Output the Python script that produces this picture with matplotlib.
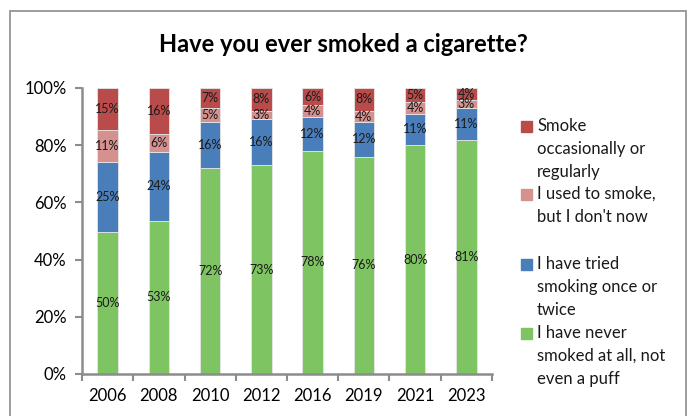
import matplotlib.pyplot as plt
from matplotlib.patches import Rectangle
from matplotlib.ticker import PercentFormatter
import numpy as np

plt.rcParams['font.family'] = ['Lato', 'DejaVu Sans']

years = ['2006', '2008', '2010', '2012', '2016', '2019', '2021', '2023']
never = [50, 53, 72, 73, 78, 76, 80, 81]
tried = [25, 24, 16, 16, 12, 12, 11, 11]
used_to = [11, 6, 5, 3, 4, 4, 4, 3]
smoke = [15, 16, 7, 8, 6, 8, 5, 4]

series = [
    (never, '#7fc462', 'I have never\nsmoked at all, not\neven a puff'),
    (tried, '#4a7ebb', 'I have tried\nsmoking once or\ntwice'),
    (used_to, '#d49190', "I used to smoke,\nbut I don't now"),
    (smoke, '#b94c4b', 'Smoke\noccasionally or\nregularly'),
]

W, H = 691, 416
fig = plt.figure(figsize=(W / 100, H / 100), dpi=100)
ax = fig.add_axes([82 / W, 1 - 374 / H, 410 / W, 286 / H])

# 100% stacked: each year scaled to its own total
totals = np.sum([s[0] for s in series], axis=0)
x = np.arange(len(years))
bottom = np.zeros(len(years))
for vals, col, lab in series:
    v = np.array(vals) / totals * 100
    bars = ax.bar(x, v, 0.4, bottom=bottom, color=col, edgecolor='#e6e6e6', linewidth=0.6)
    ax.bar_label(bars, labels=[f'{n}%' for n in vals], label_type='center',
                 fontsize=9, color='#1a1a1a')
    bottom += v

ax.set_xlim(-0.5, len(years) - 0.5)
ax.set_ylim(0, 100)
ax.set_yticks(range(0, 101, 20))
ax.yaxis.set_major_formatter(PercentFormatter(decimals=0))
ax.set_xticks(x)
ax.set_xticklabels(years)
ax.set_xticks(np.arange(-0.5, len(years)), minor=True)
ax.tick_params(axis='x', which='major', length=0, labelsize=12, pad=10)
ax.tick_params(axis='x', which='minor', length=5, width=1.5, color='#8c8c8c')
ax.tick_params(axis='y', length=5, width=1.5, color='#8c8c8c', labelsize=12, pad=6)
for s in ['top', 'right']:
    ax.spines[s].set_visible(False)
for s in ['left', 'bottom']:
    ax.spines[s].set_color('#8c8c8c')
    ax.spines[s].set_linewidth(1.8)

fig.text(343 / W, 1 - 44 / H, 'Have you ever smoked a cigarette?', ha='center',
         va='center', fontsize=17, fontweight='bold')

# legend drawn by hand so the squares sit on the first line of each entry
line_h = 22.8
entry_tops = [126, 194, 264, 333]
for (vals, col, lab), y0 in zip(series[::-1], entry_tops):
    fig.patches.append(Rectangle((521 / W, 1 - (y0 + 6) / H), 11 / W, 11 / H,
                                 transform=fig.transFigure, color=col))
    for i, line in enumerate(lab.split('\n')):
        fig.text(537 / W, 1 - (y0 + i * line_h) / H, line, va='center', fontsize=12,
                 color='#1a1a1a')

fig.patches.append(Rectangle((10 / W, -0.1), 676 / W, 1.1 - 11 / H,
                             transform=fig.transFigure, fill=False,
                             edgecolor='#8c8c8c', linewidth=1.2))

fig.savefig('out.png', dpi=100)
